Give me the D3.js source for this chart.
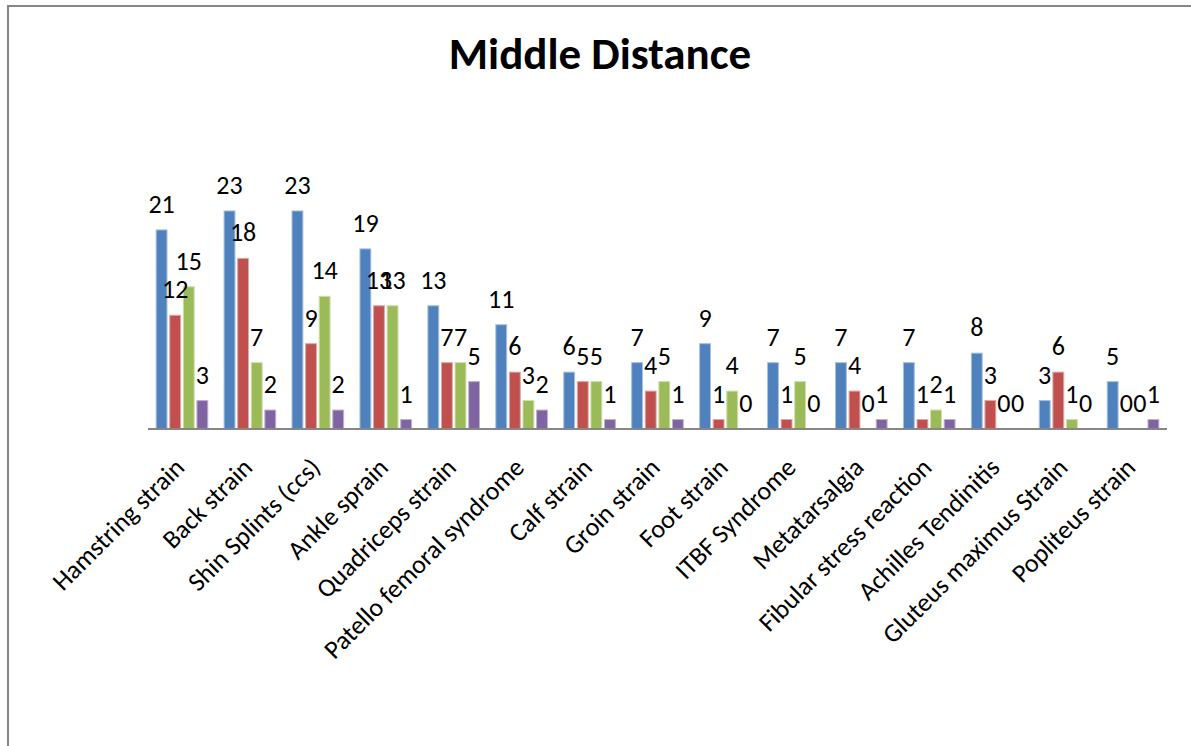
<!DOCTYPE html>
<html>
<head>
<meta charset="utf-8">
<script src="https://cdn.jsdelivr.net/npm/d3@7"></script>
<style>
  html, body { margin: 0; padding: 0; background: #fff; }
  svg { display: block; }
</style>
</head>
<body>
<svg id="chart" width="1191" height="746"></svg>
<script>
// Injury counts per category, one array per series
const categories = [
  "Hamstring strain", "Back strain", "Shin Splints (ccs)", "Ankle sprain",
  "Quadriceps strain", "Patello femoral syndrome", "Calf strain", "Groin strain",
  "Foot strain", "ITBF Syndrome", "Metatarsalgia", "Fibular stress reaction",
  "Achilles Tendinitis", "Gluteus maximus Strain", "Popliteus strain"
];
const series1 = [21, 23, 23, 19, 13, 11, 6, 7, 9, 7, 7, 7, 8, 3, 5];
const series2 = [12, 18, 9, 13, 7, 6, 5, 4, 1, 1, 4, 1, 3, 6, 0];
const series3 = [15, 7, 14, 13, 7, 3, 5, 5, 4, 5, 0, 2, 0, 1, 0];
const series4 = [3, 2, 2, 1, 5, 2, 1, 1, 0, 0, 1, 1, 0, 0, 1];
const seriesNames = ["s1", "s2", "s3", "s4"];
const seriesValues = [series1, series2, series3, series4];
const fills = ["#4F81BD", "#C0504D", "#9BBB59", "#8064A2"];
const edges = ["#A7C0DE", "#DFA8A6", "#CDDDAC", "#BFB1D0"];
const titleText = "Middle Distance";

const font = "Carlito, Calibri, Lato, sans-serif";
const svg = d3.select("#chart");

// Chart frame
svg.append("rect")
  .attr("x", 8).attr("y", 6)
  .attr("width", 1200).attr("height", 760)
  .attr("fill", "#fff")
  .attr("stroke", "#868686")
  .attr("stroke-width", 2);

// Title
svg.append("text")
  .attr("x", 600).attr("y", 69)
  .attr("text-anchor", "middle")
  .attr("font-family", font)
  .attr("font-weight", "bold")
  .attr("font-size", 45)
  .attr("fill", "#000")
  .text(titleText);

// Scales
const x0 = d3.scaleBand().domain(categories).range([148, 1167]).paddingInner(0).paddingOuter(0);
const x1 = d3.scaleBand().domain(seriesNames).range([0, x0.bandwidth()]).paddingInner(0.2).paddingOuter(0.6);
const y = d3.scaleLinear().domain([0, 25]).range([429, 192]);

const rows = categories.map((c, i) => ({
  cat: c,
  vals: seriesNames.map((s, k) => ({ s, k, v: seriesValues[k][i] }))
}));

const groups = svg.append("g").selectAll("g")
  .data(rows).join("g")
  .attr("transform", d => `translate(${x0(d.cat)},0)`);

// Bars
groups.selectAll("rect")
  .data(d => d.vals.filter(e => e.v > 0)).join("rect")
  .attr("x", e => x1(e.s))
  .attr("y", e => y(e.v))
  .attr("width", x1.bandwidth())
  .attr("height", e => y(0) - y(e.v))
  .attr("fill", e => fills[e.k])
  .attr("stroke", e => edges[e.k])
  .attr("stroke-width", 1);

// Value labels
groups.selectAll("text")
  .data(d => d.vals).join("text")
  .attr("x", e => x1(e.s) + x1.bandwidth() / 2)
  .attr("y", e => y(e.v) - 17)
  .attr("text-anchor", "middle")
  .attr("font-family", font)
  .attr("font-size", 26)
  .attr("fill", "#000")
  .text(e => e.v);

// Category axis
const axis = svg.append("g").attr("transform", `translate(0,${y(0)})`)
  .call(d3.axisBottom(x0).tickSize(0).tickPadding(0));
axis.select(".domain").attr("stroke", "#868686").attr("stroke-width", 2)
  .attr("d", `M148,0H1167`);
axis.selectAll(".tick text")
  .attr("font-family", font)
  .attr("font-size", 26)
  .attr("fill", "#000")
  .attr("text-anchor", "end")
  .attr("dy", 0)
  .attr("transform", "translate(4,40) rotate(-45)");
</script>
</body>
</html>
